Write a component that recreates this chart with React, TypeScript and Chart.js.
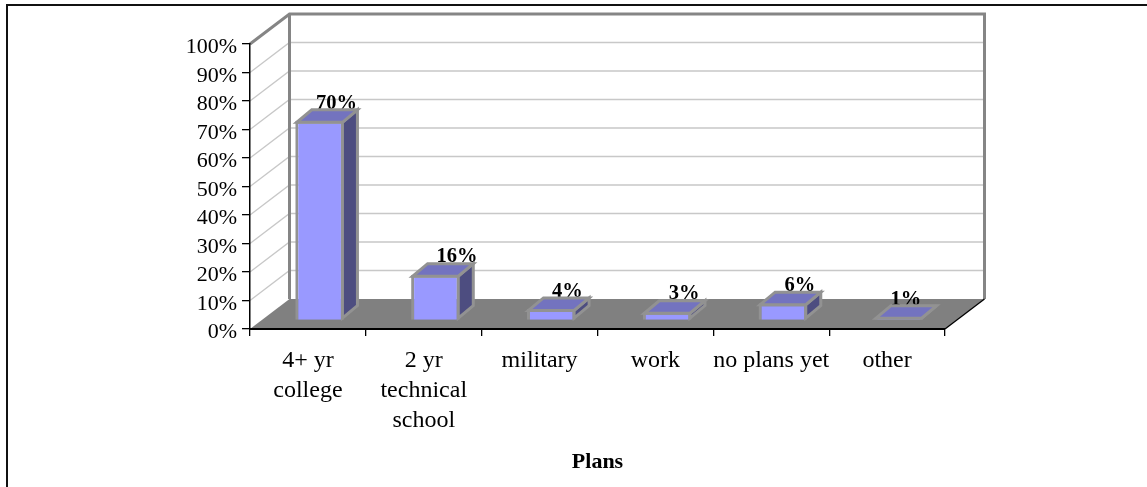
import React, { useEffect, useRef } from "react";
import { Chart, registerables } from "chart.js";

Chart.register(...registerables);

const categories: (string | string[])[] = [
  ["4+ yr", "college"],
  ["2 yr", "technical", "school"],
  "military",
  "work",
  "no plans yet",
  "other",
];
const planShares = [70, 16, 4, 3, 6, 1];
const yTickStep = 10;
const labelNudgeX = [17, 21.5, 16, 17, 17, 7];

const SERIF = "'Liberation Serif', 'Times New Roman', serif";
const WALL_DX = 39.5;
const WALL_DY = -30;
const BAR_SHIFT_X = 11.7;
const BAR_SHIFT_Y = -8.7;
const BAR_DX = 15;
const BAR_DY = -12.5;
const EDGE = "#929292";

const threeD = {
  id: "threeD",
  beforeDraw(chart: any) {
    const { ctx, chartArea: a, scales } = chart;
    const y = scales.y;
    ctx.save();
    ctx.fillStyle = "#fff";
    ctx.fillRect(0, 0, chart.width, chart.height);

    // page frame
    ctx.strokeStyle = "#111";
    ctx.lineWidth = 2;
    ctx.beginPath();
    ctx.moveTo(7, 487);
    ctx.lineTo(7, 5);
    ctx.lineTo(1147, 5);
    ctx.stroke();

    // grid lines on side and back walls
    ctx.strokeStyle = "#c8c8c8";
    ctx.lineWidth = 1.3;
    for (let v = yTickStep; v < 100; v += yTickStep) {
      const py = y.getPixelForValue(v);
      ctx.beginPath();
      ctx.moveTo(a.left, py);
      ctx.lineTo(a.left + WALL_DX, py + WALL_DY);
      ctx.lineTo(a.right + WALL_DX, py + WALL_DY);
      ctx.stroke();
    }

    // floor
    const base = y.getPixelForValue(0);
    ctx.fillStyle = "#808080";
    ctx.beginPath();
    ctx.moveTo(a.left, base);
    ctx.lineTo(a.right, base);
    ctx.lineTo(a.right + WALL_DX, base + WALL_DY);
    ctx.lineTo(a.left + WALL_DX, base + WALL_DY);
    ctx.closePath();
    ctx.fill();

    // wall frame
    const top = y.getPixelForValue(100);
    ctx.strokeStyle = "#858585";
    ctx.lineWidth = 3;
    ctx.beginPath();
    ctx.moveTo(a.left, top);
    ctx.lineTo(a.left + WALL_DX, top + WALL_DY);
    ctx.lineTo(a.right + WALL_DX, top + WALL_DY);
    ctx.lineTo(a.right + WALL_DX, base + WALL_DY);
    ctx.moveTo(a.left + WALL_DX, top + WALL_DY);
    ctx.lineTo(a.left + WALL_DX, base + WALL_DY);
    ctx.stroke();

    // floor right edge
    ctx.strokeStyle = "#000";
    ctx.lineWidth = 1.3;
    ctx.beginPath();
    ctx.moveTo(a.right, base);
    ctx.lineTo(a.right + WALL_DX, base + WALL_DY);
    ctx.stroke();
    ctx.restore();
  },
  beforeDatasetDraw(chart: any) {
    chart.ctx.save();
    chart.ctx.translate(BAR_SHIFT_X, BAR_SHIFT_Y);
  },
  afterDatasetDraw(chart: any, args: any) {
    const { ctx } = chart;
    const bars = chart.getDatasetMeta(args.index).data;
    const inset = 1.5;

    // value labels are under the bar caps
    ctx.save();
    ctx.translate(-BAR_SHIFT_X, -BAR_SHIFT_Y);
    ctx.font = `bold 20.5px ${SERIF}`;
    ctx.fillStyle = "#000";
    ctx.textAlign = "center";
    ctx.textBaseline = "alphabetic";
    bars.forEach((b: any, i: number) => {
      ctx.fillText(`${planShares[i]}%`, b.x + BAR_SHIFT_X + labelNudgeX[i], b.y - 21);
    });
    ctx.restore();

    ctx.lineWidth = 3;
    ctx.lineJoin = "miter";
    ctx.strokeStyle = EDGE;
    bars.forEach((b: any) => {
      const l = b.x - b.width / 2 + inset;
      const r = b.x + b.width / 2 - inset;
      const t = Math.min(b.y + inset, b.base - inset);
      const bot = b.base - inset;
      ctx.fillStyle = "#4d4d80";
      ctx.beginPath();
      ctx.moveTo(r, t);
      ctx.lineTo(r + BAR_DX, t + BAR_DY);
      ctx.lineTo(r + BAR_DX, bot + BAR_DY);
      ctx.lineTo(r, bot);
      ctx.closePath();
      ctx.fill();
      ctx.stroke();
      ctx.fillStyle = "#7373bf";
      ctx.beginPath();
      ctx.moveTo(l, t);
      ctx.lineTo(r, t);
      ctx.lineTo(r + BAR_DX, t + BAR_DY);
      ctx.lineTo(l + BAR_DX, t + BAR_DY);
      ctx.closePath();
      ctx.fill();
      ctx.stroke();
    });
    ctx.restore();
  },
};

export default function App() {
  const ref = useRef<HTMLCanvasElement>(null);
  useEffect(() => {
    document.body.style.margin = "0";
    const chart = new Chart(ref.current!, {
      type: "bar",
      data: {
        labels: categories as any,
        datasets: [
          {
            label: "Plans",
            data: planShares,
            backgroundColor: "#9999ff",
            borderColor: EDGE,
            borderWidth: 3,
            categoryPercentage: 1,
            barPercentage: 0.42,
            clip: false as any,
          },
        ],
      },
      plugins: [threeD],
      options: {
        animation: false,
        responsive: false,
        layout: { padding: { left: 0, right: 202, top: 44, bottom: 0 } },
        plugins: { legend: { display: false }, title: { display: false }, tooltip: { enabled: false } },
        scales: {
          x: {
            afterFit(axis: any) {
              axis.height = 158;
            },
            border: { color: "#000", width: 2 },
            grid: { drawOnChartArea: false, drawTicks: true, tickLength: 7, color: "#000", lineWidth: 1.3, offset: true },
            ticks: {
              color: "#000",
              font: { family: SERIF, size: 24, lineHeight: 1.27 },
              padding: 9,
              maxRotation: 0,
              autoSkip: false,
            },
            title: {
              display: true,
              text: "Plans",
              color: "#000",
              font: { family: SERIF, size: 22, weight: "bold" },
              padding: { top: 0, bottom: 11 },
            },
          },
          y: {
            min: 0,
            max: 100,
            afterFit(axis: any) {
              axis.width = 250;
            },
            border: { color: "#000", width: 1.5 },
            grid: { drawOnChartArea: false, drawTicks: true, tickLength: 8, color: "#000", lineWidth: 1.3 },
            ticks: {
              stepSize: yTickStep,
              color: "#000",
              font: { family: SERIF, size: 22, lineHeight: "7px" },
              padding: 5,
              callback: (v: any) => ["", `${v}%`],
            },
          },
        },
      },
    });
    return () => chart.destroy();
  }, []);
  return <canvas ref={ref} width={1147} height={487} style={{ display: "block" }} />;
}
